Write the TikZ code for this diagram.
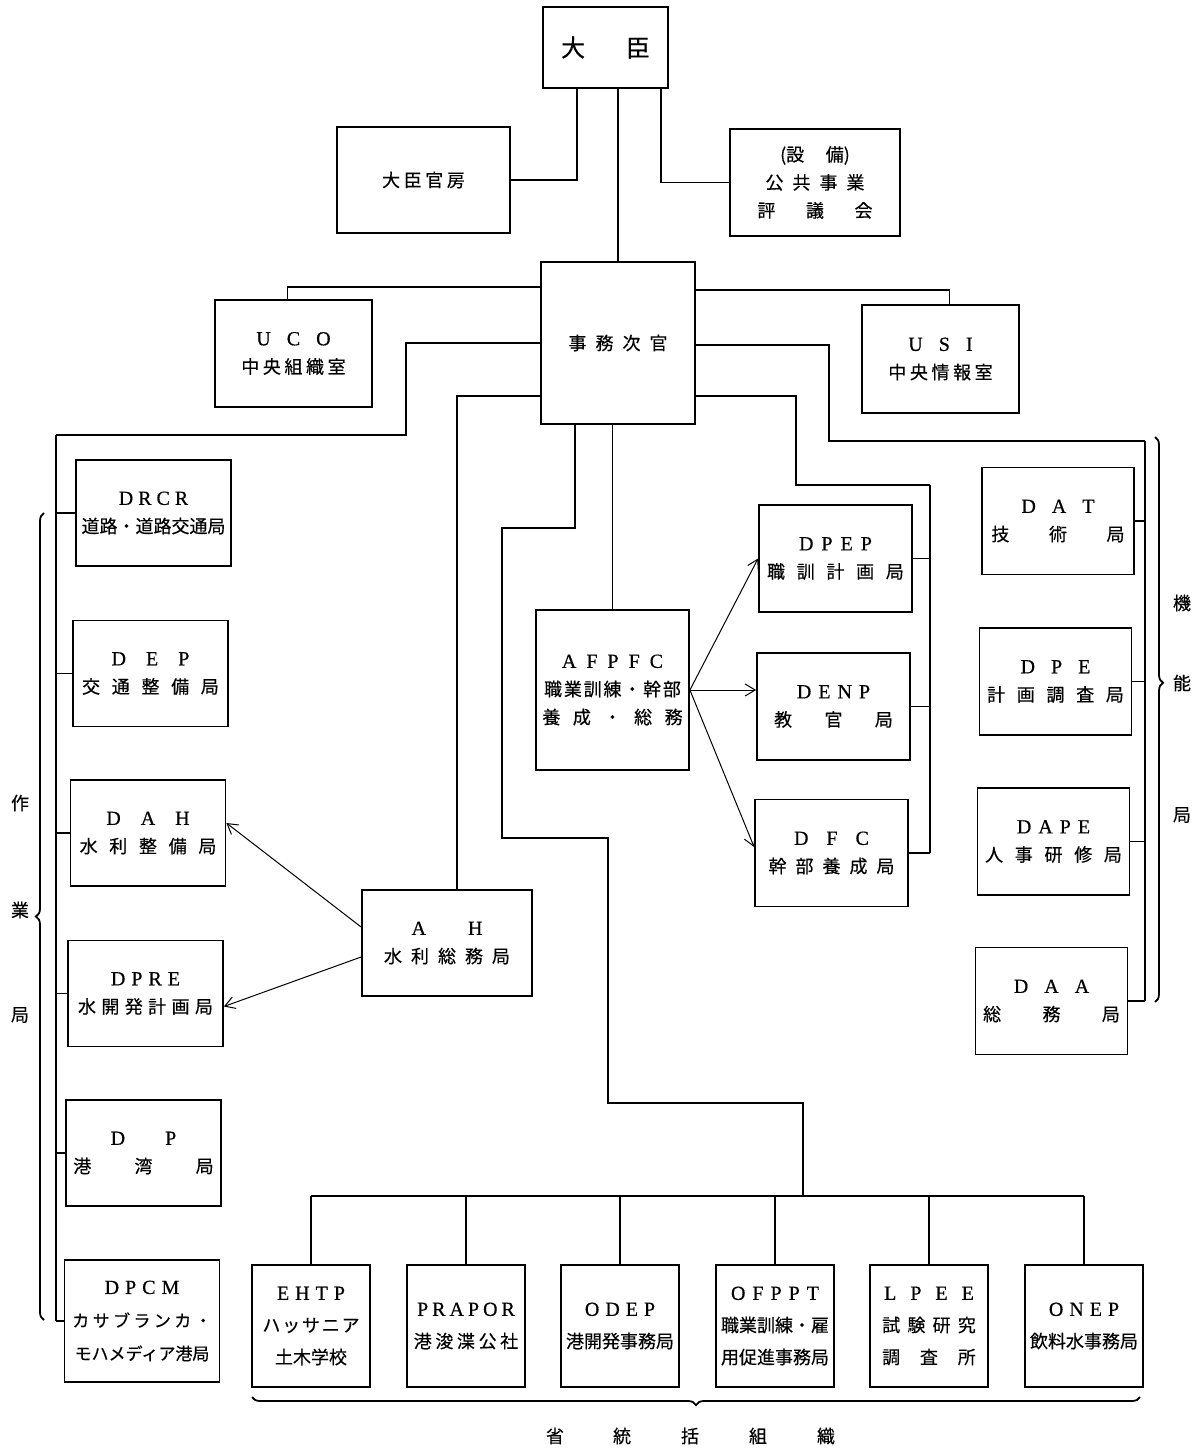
\documentclass[tikz,border=0pt]{standalone}
\usepackage{fontspec}
\setmainfont{Noto Sans CJK JP}[FakeBold=0.4]
\newfontfamily\lt{Liberation Serif}[FakeBold=0.5]
\usetikzlibrary{calc,arrows.meta,decorations.pathreplacing}
\newcommand{\gp}[1]{\hspace{#1em}}
\newcommand{\ab}[1]{{\lt\fontsize{10}{14}\selectfont #1}}

\tikzset{
  box/.style={draw, line width=0.9pt, align=center, inner sep=0pt, font=\fontsize{9}{14}\selectfont},
  lbox/.style={box, minimum width=77.5pt, minimum height=53pt},
  cbox/.style={box, minimum width=76.5pt, minimum height=53.5pt},
  rbox/.style={box, minimum width=76pt, minimum height=53.5pt},
  obox/.style={box, minimum width=59pt, minimum height=61pt, font=\fontsize{9}{16}\selectfont},
  link/.style={line width=0.9pt},
  arr/.style={line width=0.5pt, -{Straight Barb[length=5pt,width=6pt]}},
  brc/.style={line width=0.9pt, decorate, decoration={brace, amplitude=4pt}},
  lbl/.style={font=\fontsize{9}{10}\selectfont}
}

\begin{document}
\begin{tikzpicture}[x=0.5pt, y=-0.5pt]
\useasboundingbox (0,0) rectangle (1198,1451);

% top
\node[box, minimum width=62.5pt, minimum height=40.5pt, font=\fontsize{12}{14}\selectfont] (minister) at (605.5,47.5) {大\gp{1.7}臣};
\node[box, minimum width=86.5pt, minimum height=53pt] (cabinet) at (423.5,180) {大\gp{0.2}臣\gp{0.2}官\gp{0.2}房};
\node[box, minimum width=85pt, minimum height=53.5pt] (council) at (815,182.5) {(設\gp{1.2}備)\\公\gp{0.5}共\gp{0.5}事\gp{0.5}業\\評\gp{1.7}議\gp{1.7}会};
\node[box, minimum width=77pt, minimum height=81pt] (vice) at (618,343) {事\gp{0.5}務\gp{0.5}次\gp{0.5}官};
\node[box, minimum width=78.5pt, minimum height=53.5pt] (uco) at (293.5,353.5) {\ab{U\gp{0.8}C\gp{0.8}O}\\中\gp{0.2}央\gp{0.2}組\gp{0.2}織\gp{0.2}室};
\node[box, minimum width=78.5pt, minimum height=54pt] (usi) at (940.5,359) {\ab{U\gp{0.8}S\gp{0.8}I}\\中\gp{0.2}央\gp{0.2}情\gp{0.2}報\gp{0.2}室};

% operational directorates
\node[lbox] (drcr) at (153.5,513) {\ab{D\gp{0.25}R\gp{0.25}C\gp{0.25}R}\\道路・道路交通局};
\node[lbox] (dep) at (150.5,673.5) {\ab{D\gp{1}E\gp{1}P}\\交\gp{0.65}通\gp{0.65}整\gp{0.65}備\gp{0.65}局};
\node[lbox] (dah) at (148,833) {\ab{D\gp{1}A\gp{1}H}\\水\gp{0.65}利\gp{0.65}整\gp{0.65}備\gp{0.65}局};
\node[lbox] (dpre) at (145.5,993.5) {\ab{D\gp{0.3}P\gp{0.3}R\gp{0.3}E}\\水\gp{0.3}開\gp{0.3}発\gp{0.3}計\gp{0.3}画\gp{0.3}局};
\node[lbox] (dp) at (143.5,1153) {\ab{D\gp{2}P}\\港\gp{2.4}湾\gp{2.4}局};
\node[lbox, minimum height=61pt, font=\fontsize{8.5}{16.5}\selectfont] (dpcm) at (142,1321) {\ab{D\gp{0.3}P\gp{0.3}C\gp{0.3}M}\\カ\gp{0.2}サ\gp{0.2}ブ\gp{0.2}ラ\gp{0.2}ン\gp{0.2}カ\gp{0.2}・\\モハメディア港局};

% training and water
\node[box, minimum width=76.5pt, minimum height=80pt] (afpfc) at (612.5,690) {\ab{A\gp{0.5}F\gp{0.5}P\gp{0.5}F\gp{0.5}C}\\職\gp{0.1}業\gp{0.1}訓\gp{0.1}練\gp{0.1}・\gp{0.1}幹\gp{0.1}部\\養\gp{0.7}成\gp{0.7}・\gp{0.7}総\gp{0.7}務};
\node[cbox] (dpep) at (835.5,558.5) {\ab{D\gp{0.4}P\gp{0.4}E\gp{0.4}P}\\職\gp{0.65}訓\gp{0.65}計\gp{0.65}画\gp{0.65}局};
\node[cbox] (denp) at (833.5,706.5) {\ab{D\gp{0.35}E\gp{0.35}N\gp{0.35}P}\\教\gp{1.8}官\gp{1.8}局};
\node[cbox] (dfc) at (831.5,853) {\ab{D\gp{0.9}F\gp{0.9}C}\\幹\gp{0.5}部\gp{0.5}養\gp{0.5}成\gp{0.5}局};
\node[box, minimum width=85pt, minimum height=53pt] (ah) at (447,943) {\ab{A\gp{2.1}H}\\水\gp{0.5}利\gp{0.5}総\gp{0.5}務\gp{0.5}局};

% functional directorates
\node[rbox] (dat) at (1058,521) {\ab{D\gp{0.8}A\gp{0.8}T}\\技\gp{2.2}術\gp{2.2}局};
\node[rbox] (dpe) at (1055.5,681.5) {\ab{D\gp{0.8}P\gp{0.8}E}\\計\gp{0.65}画\gp{0.65}調\gp{0.65}査\gp{0.65}局};
\node[rbox] (dape) at (1053.5,841.5) {\ab{D\gp{0.35}A\gp{0.35}P\gp{0.35}E}\\人\gp{0.65}事\gp{0.65}研\gp{0.65}修\gp{0.65}局};
\node[rbox] (daa) at (1051.5,1001) {\ab{D\gp{0.8}A\gp{0.8}A}\\総\gp{2.3}務\gp{2.3}局};

% supervised bodies
\node[obox] (ehtp) at (311,1326) {\ab{E\gp{0.3}H\gp{0.3}T\gp{0.3}P}\\ハ\gp{0.1}ッ\gp{0.1}サ\gp{0.1}ニ\gp{0.1}ア\\土木学校};
\node[obox] (prapor) at (466,1326) {\ab{P\gp{0.2}R\gp{0.2}A\gp{0.2}P\gp{0.2}O\gp{0.2}R}\\港\gp{0.2}浚\gp{0.2}渫\gp{0.2}公\gp{0.2}社};
\node[obox] (odep) at (620,1326) {\ab{O\gp{0.3}D\gp{0.3}E\gp{0.3}P}\\港開発事務局};
\node[obox] (ofppt) at (775,1326) {\ab{O\gp{0.35}F\gp{0.35}P\gp{0.35}P\gp{0.35}T}\\職業訓練・雇\\用促進事務局};
\node[obox] (lpee) at (929,1326) {\ab{L\gp{0.7}P\gp{0.7}E\gp{0.7}E}\\試\gp{0.4}験\gp{0.4}研\gp{0.4}究\\調\gp{1.1}査\gp{1.1}所};
\node[obox] (onep) at (1084,1326) {\ab{O\gp{0.3}N\gp{0.3}E\gp{0.3}P}\\飲料水事務局};

% minister
\draw[link] (cabinet.east) -| ($(minister.south)+(-28.5,0)$);
\draw[link] (council.west) -| ($(minister.south)+(55.5,0)$);
\draw[link] (minister.south -| vice.north) -- (vice.north);

% vice minister
\draw[link] ($(vice.west)+(0,-56)$) -| ($(uco.north)+(-6,0)$);
\draw[link] ($(vice.east)+(0,-53)$) -| ($(usi.north)+(9,0)$);
\draw[link] (vice.south -| afpfc.north) -- (afpfc.north);
\draw[link] ($(vice.west)+(0,53)$) -| ($(ah.north)+(10,0)$);

\coordinate (ltop) at (56,435);
\draw[link] (vice.west) -- ++(-134,0) |- (ltop);
\draw[link] (ltop) -- (ltop |- dpcm.west);
\foreach \n in {drcr,dep,dah,dpre,dp,dpcm}
  \draw[link] (\n.west) -- (\n.west -| ltop);

\coordinate (rtop) at (1145,441);
\draw[link] ($(vice.east)+(0,2)$) -- ++(133,0) |- (rtop);
\draw[link] (rtop) -- (rtop |- daa.east);
\foreach \n in {dat,dpe,dape,daa}
  \draw[link] (\n.east) -- (\n.east -| rtop);

\coordinate (ttop) at (930,485);
\draw[link] ($(vice.east)+(0,53)$) -- ++(100,0) |- (ttop);
\draw[link] (ttop) -- (ttop |- dfc.east);
\foreach \n in {dpep,denp,dfc}
  \draw[link] (\n.east) -- (\n.east -| ttop);

\coordinate (bbar) at (803,1196);
\draw[link] ($(vice.south)+(-43,0)$) -- ++(0,103) -- ++(-73,0) -- ++(0,310) -- ++(106,0) -- ++(0,265) -| (bbar);
\draw[link] (ehtp.north |- bbar) -- (onep.north |- bbar);
\foreach \n in {ehtp,prapor,odep,ofppt,lpee,onep}
  \draw[link] (\n.north) -- (\n.north |- bbar);

% arrows
\draw[arr] (afpfc.east) -- (dpep.west);
\draw[arr] (afpfc.east) -- (afpfc.east -| denp.west);
\draw[arr] (afpfc.east) -- ($(dfc.west)+(0,-6)$);
\draw[arr] ($(ah.west)+(0,-16)$) -- ($(dah.east)+(0,-10)$);
\draw[arr] ($(ah.west)+(0,14)$) -- ($(dpre.east)+(0,13)$);

% braces
\draw[brc] (44,1320) -- (44,513);
\draw[brc, decoration={aspect=0.435}] (1155,437) -- (1155,1002);
\draw[brc] (1140,1397) -- (252,1397);

\node[lbl] (op1) at (20,803) {作};
\node[lbl] (op2) at (20,910) {業};
\node[lbl] (op3) at (20,1015) {局};
\node[lbl] (fn1) at (1182,603) {機};
\node[lbl] (fn2) at (1182,683) {能};
\node[lbl] (fn3) at (1182,815) {局};
\node[lbl] (sv1) at (555,1436) {省};
\node[lbl] (sv2) at (622,1436) {統};
\node[lbl] (sv3) at (690,1436) {括};
\node[lbl] (sv4) at (758,1436) {組};
\node[lbl] (sv5) at (826,1436) {織};
\end{tikzpicture}
\end{document}
